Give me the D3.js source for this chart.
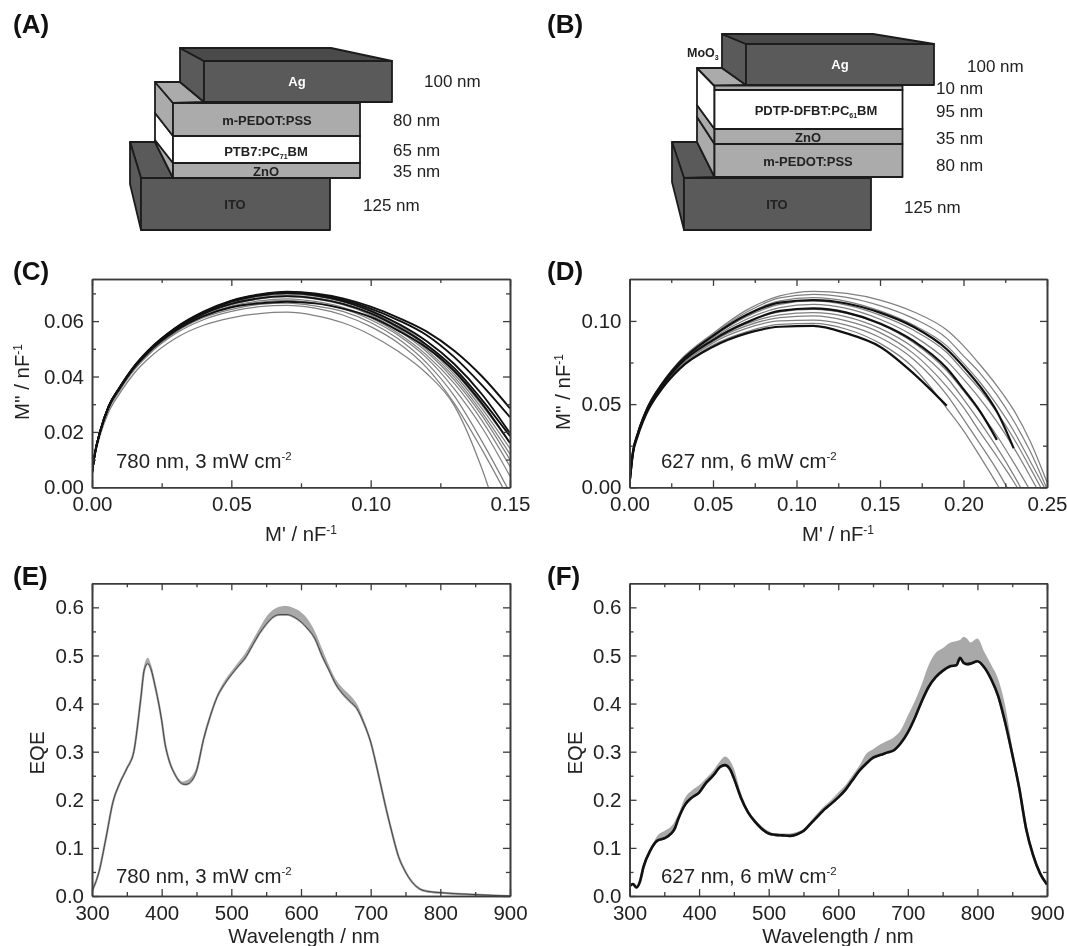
<!DOCTYPE html>
<html>
<head>
<meta charset="utf-8">
<script src="https://cdn.jsdelivr.net/npm/d3@7"></script>
<style>
  html, body { margin: 0; padding: 0; background: #fff; }
  svg { display: block; font-family: "Liberation Sans", Arial, sans-serif; filter: blur(0.45px); }
</style>
</head>
<body>
<svg id="chart" width="1067" height="946"></svg>
<script>
// device stacks
var stackA = ['Ag', 'm-PEDOT:PSS', 'PTB7:PC|71|BM', 'ZnO', 'ITO'];
var thickA = ['100 nm', '80 nm', '65 nm', '35 nm', '125 nm'];
var stackB = ['Ag', 'PDTP-DFBT:PC|61|BM', 'ZnO', 'm-PEDOT:PSS', 'ITO'];
var thickB = ['100 nm', '10 nm', '95 nm', '35 nm', '80 nm', '125 nm'];

// panel C, M'' against M' at fixed M' positions
var gridC = [0, .001, .003, .006, .01, .015, .02, .03, .04, .05, .06, .07, .08, .09, .10, .11, .12, .13, .14, .15];
var blackC = [
  [.005, .012, .0205, .0293, .0362, .0435, .0492, .0576, .0634, .0674, .0696, .0706, .0700, .0682, .0652, .0612, .0563, .0493, .0400, .0285],
  [.005, .012, .0205, .0293, .0362, .0435, .0491, .0575, .0632, .0672, .0694, .0704, .0697, .0677, .0645, .0603, .0550, .0470, .0368, .0253],
  [.005, .012, .0204, .0292, .0360, .0433, .0490, .0573, .0630, .0670, .0692, .0701, .0693, .0672, .0637, .0590, .0528, .0445, .0335, .0195],
  [.005, .012, .0204, .0292, .0360, .0432, .0488, .0570, .0626, .0662, .0682, .0690, .0682, .0662, .0628, .0578, .0515, .0430, .0315, .0185],
  [.005, .012, .0203, .0290, .0358, .0430, .0485, .0565, .0618, .0650, .0664, .0670, .0664, .0645, .0615, .0565, .0505, .0420, .0302, .0160]
];
var greyC = [
  [.005, .011, .0190, .0272, .0340, .0410, .0462, .0538, .0585, .0612, .0627, .0632, .0620, .0594, .0550, .0490, .0412, .0295, .0065, -.025],
  [.005, .0115, .0197, .0282, .0350, .0422, .0476, .0555, .0605, .0635, .0652, .0657, .0647, .0622, .0580, .0520, .0433, .0303, .0135, -.005],
  [.005, .0115, .0198, .0285, .0353, .0425, .0480, .0560, .0612, .0642, .0660, .0665, .0655, .0635, .0595, .0535, .0450, .0330, .0165, -.002],
  [.005, .0117, .0200, .0287, .0355, .0428, .0483, .0564, .0617, .0650, .0668, .0675, .0666, .0645, .0605, .0548, .0468, .0355, .0215, .0040],
  [.005, .0117, .0200, .0288, .0356, .0429, .0484, .0566, .0620, .0654, .0673, .0680, .0671, .0650, .0612, .0555, .0478, .0375, .0240, .0075],
  [.005, .0118, .0202, .0289, .0358, .0431, .0486, .0568, .0624, .0659, .0680, .0688, .0680, .0659, .0622, .0565, .0490, .0388, .0258, .0100],
  [.005, .0118, .0202, .0290, .0359, .0432, .0488, .0570, .0626, .0663, .0684, .0692, .0685, .0664, .0628, .0572, .0498, .0398, .0270, .0120],
  [.005, .0119, .0203, .0291, .0360, .0433, .0489, .0572, .0629, .0666, .0688, .0697, .0690, .0669, .0634, .0580, .0507, .0408, .0283, .0140],
  [.005, .0119, .0204, .0292, .0361, .0434, .0490, .0574, .0631, .0669, .0691, .0700, .0694, .0674, .0640, .0587, .0515, .0418, .0295, .0160]
];

// panel D, same kind of curves, black ones stop before the axis
var gridD = [0, .002, .005, .01, .02, .03, .05, .07, .09, .11, .13, .15, .17, .19, .20, .21, .22, .23, .24, .25];
var blackD = [
  [.002, .020, .031, .044, .0600, .0712, .0845, .0925, .0965, .0970, .0925, .0845, .0685, .0490, null, null, null, null, null, null],
  [.002, .0205, .032, .0453, .0618, .0738, .0885, .0990, .1060, .1075, .1050, .0985, .0880, .0715, .0590, .0455, .0285, null, null, null],
  [.002, .021, .0325, .0460, .0628, .0750, .0910, .1035, .1110, .1125, .1105, .1050, .0965, .0830, .0725, .0605, .0455, .0235, null, null]
];
var greyD = [
  [.002, .020, .0312, .0443, .0602, .0715, .0855, .0935, .0980, .0985, .0950, .0865, .0720, .0475, .0341, .0184, .0020, -.016, null, null],
  [.002, .0202, .0315, .0447, .0606, .0722, .0868, .0955, .1000, .1005, .0975, .0900, .0770, .0555, .0410, .0260, .0105, -.007, null, null],
  [.002, .0203, .0317, .0450, .0610, .0728, .0878, .0970, .1020, .1030, .1000, .0930, .0805, .0605, .0480, .0330, .0185, .0035, -.014, null],
  [.002, .0204, .0319, .0452, .0614, .0733, .0885, .0982, .1037, .1050, .1025, .0955, .0840, .0660, .0530, .0390, .0240, .0075, -.011, null],
  [.002, .0205, .0320, .0454, .0618, .0738, .0890, .0995, .1055, .1070, .1045, .0980, .0870, .0700, .0580, .0450, .0310, .0150, -.002, null],
  [.002, .0206, .0322, .0457, .0622, .0743, .0898, .1010, .1080, .1100, .1075, .1010, .0910, .0760, .0650, .0530, .0395, .0240, .0065, -.012],
  [.002, .0207, .0324, .0460, .0626, .0748, .0905, .1025, .1100, .1120, .1095, .1035, .0945, .0810, .0700, .0585, .0450, .0295, .0115, -.007],
  [.002, .0208, .0326, .0462, .0629, .0752, .0912, .1040, .1120, .1140, .1118, .1060, .0975, .0850, .0745, .0630, .0495, .0340, .0155, -.003],
  [.002, .0209, .0328, .0464, .0632, .0756, .0918, .1052, .1138, .1160, .1142, .1092, .1015, .0895, .0790, .0685, .0555, .0400, .0215, -.001],
  [.002, .021, .0330, .0465, .0635, .0760, .0925, .1065, .1150, .1178, .1165, .1125, .1055, .0945, .0850, .0735, .0610, .0465, .0275, .0030]
];

// panel E, EQE spectrum and top edge of the grey spread
var wavelengthE = [300, 310, 320, 330, 340, 350, 360, 370, 375, 380, 385, 390, 400, 405, 410, 420, 430, 435, 440, 450, 460, 470, 480, 490, 500, 510, 520, 530, 540, 550, 560, 570, 580, 590, 600, 610, 620, 630, 640, 650, 660, 670, 680, 690, 700, 710, 720, 730, 740, 750, 760, 770, 780, 800, 820, 850, 880, 900];
var eqeE = [.01, .05, .12, .195, .235, .265, .30, .41, .47, .483, .47, .44, .365, .315, .285, .25, .233, .232, .235, .26, .325, .375, .415, .44, .46, .478, .495, .52, .545, .565, .58, .585, .585, .58, .57, .555, .535, .50, .47, .44, .42, .405, .39, .36, .32, .26, .195, .135, .082, .05, .028, .015, .01, .007, .005, .003, .001, 0];
var topE = [.012, .052, .122, .197, .237, .267, .303, .415, .48, .495, .48, .447, .37, .318, .288, .254, .238, .24, .244, .268, .33, .38, .42, .447, .467, .486, .505, .53, .556, .58, .595, .602, .603, .598, .59, .575, .55, .515, .48, .45, .432, .418, .40, .367, .325, .263, .198, .137, .084, .052, .029, .016, .011, .008, .005, .003, .001, 0];

// panel F
var wavelengthF = [300, 305, 310, 315, 320, 330, 340, 350, 360, 365, 370, 380, 390, 400, 410, 420, 430, 437, 445, 450, 460, 470, 480, 490, 500, 510, 520, 530, 540, 550, 560, 570, 580, 590, 600, 610, 620, 630, 640, 650, 660, 670, 680, 690, 700, 710, 720, 730, 740, 750, 760, 770, 775, 780, 785, 790, 800, 810, 820, 830, 840, 850, 860, 870, 880, 890, 900];
var eqeF = [.02, .025, .018, .03, .06, .095, .115, .12, .13, .14, .16, .19, .205, .215, .235, .25, .268, .272, .262, .245, .205, .175, .155, .14, .13, .127, .126, .125, .128, .135, .15, .165, .18, .192, .205, .22, .24, .26, .275, .2875, .293, .298, .303, .318, .34, .37, .405, .435, .455, .468, .477, .48, .495, .485, .482, .483, .488, .475, .45, .415, .36, .295, .225, .14, .085, .047, .024];
var topF = [.02, .025, .018, .03, .06, .097, .125, .135, .145, .155, .17, .205, .22, .23, .245, .26, .28, .29, .28, .265, .215, .18, .16, .145, .135, .13, .13, .13, .133, .14, .155, .172, .187, .20, .215, .23, .25, .27, .295, .305, .315, .322, .33, .345, .375, .405, .44, .48, .505, .515, .526, .53, .532, .539, .535, .527, .535, .507, .48, .45, .395, .31, .225, .14, .085, .047, .024];

var panelLabels = [
  ['(A)', 13, 33], ['(B)', 547, 33],
  ['(C)', 13, 280], ['(D)', 547, 280],
  ['(E)', 13, 585], ['(F)', 547, 585]
];

var svg = d3.select('#chart');
var ink = '#222';

panelLabels.forEach(function(d) {
  svg.append('text').attr('x', d[1]).attr('y', d[2])
    .attr('font-size', 26).attr('font-weight', 'bold').attr('fill', '#111')
    .text(d[0]);
});

function writeParts(text, str, small) {
  // "a|b|c" draws b as a small subscript
  var parts = str.split('|');
  text.append('tspan').text(parts[0]);
  if (parts.length > 1) {
    text.append('tspan').attr('font-size', small).attr('dy', 3).text(parts[1]);
    text.append('tspan').attr('dy', -3).text(parts[2]);
  }
}

function layerLabel(g, str, x, y, fill) {
  var t = g.append('text').attr('x', x).attr('y', y).attr('dy', '.36em')
    .attr('text-anchor', 'middle').attr('font-size', 13).attr('font-weight', 'bold')
    .attr('fill', fill || ink);
  writeParts(t, str, 7);
}

function nmLabel(g, str, x, y) {
  g.append('text').attr('x', x).attr('y', y).attr('dy', '.36em')
    .attr('font-size', 17).attr('fill', ink).text(str);
}

function poly(g, points, fill) {
  g.append('path')
    .attr('d', d3.line()(points) + 'Z')
    .attr('fill', fill).attr('stroke', '#1c1c1c').attr('stroke-width', 1.8)
    .attr('stroke-linejoin', 'round');
}

var dark = '#5a5a5a';
var mid = '#ababab';

function deviceA() {
  var g = svg.append('g');
  // bottom contact
  poly(g, [[130, 142], [155, 142], [173, 178], [141, 178]], dark);
  poly(g, [[130, 142], [141, 178], [141, 230], [130, 184]], dark);
  poly(g, [[141, 178], [330, 178], [330, 230], [141, 230]], dark);
  // organic stack, side faces then fronts
  poly(g, [[155, 140], [173, 163], [173, 178], [155, 142]], mid);
  poly(g, [[155, 113], [173, 136], [173, 163], [155, 140]], '#fff');
  poly(g, [[155, 82], [173, 103], [173, 136], [155, 113]], mid);
  poly(g, [[155, 82], [180, 82], [204, 102], [173, 103]], mid);
  poly(g, [[173, 103], [360, 103], [360, 136], [173, 136]], mid);
  poly(g, [[173, 136], [360, 136], [360, 163], [173, 163]], '#fff');
  poly(g, [[173, 163], [360, 163], [360, 178], [173, 178]], mid);
  // top contact
  poly(g, [[180, 48], [204, 61], [204, 102], [180, 82]], dark);
  poly(g, [[180, 48], [331, 48], [392, 61], [204, 61]], '#4a4a4a');
  poly(g, [[204, 61], [392, 61], [392, 102], [204, 102]], dark);

  layerLabel(g, stackA[0], 297, 81, '#fff');
  layerLabel(g, stackA[1], 267, 120);
  layerLabel(g, stackA[2], 266, 151);
  layerLabel(g, stackA[3], 266, 171);
  layerLabel(g, stackA[4], 235, 204);

  nmLabel(g, thickA[0], 424, 81);
  nmLabel(g, thickA[1], 393, 120);
  nmLabel(g, thickA[2], 393, 150);
  nmLabel(g, thickA[3], 393, 171);
  nmLabel(g, thickA[4], 363, 205);
}

function deviceB() {
  var g = svg.append('g');
  // bottom contact
  poly(g, [[672, 142], [697, 142], [714.5, 177], [684, 178]], dark);
  poly(g, [[672, 142], [684, 178], [684, 230], [672, 182]], dark);
  poly(g, [[684, 178], [871, 178], [871, 230], [684, 230]], dark);
  // organic stack
  poly(g, [[697, 117], [714.5, 144], [714.5, 177], [697, 142]], mid);
  poly(g, [[697, 105], [714.5, 129], [714.5, 144], [697, 117]], mid);
  poly(g, [[697, 68], [714.5, 86], [714.5, 129], [697, 105]], '#fff');
  poly(g, [[697, 68], [722, 68], [746, 85], [714.5, 86]], mid);
  poly(g, [[714.5, 85.5], [902.5, 85.5], [902.5, 90], [714.5, 90]], mid);
  poly(g, [[714.5, 90], [902.5, 90], [902.5, 129], [714.5, 129]], '#fff');
  poly(g, [[714.5, 129], [902.5, 129], [902.5, 144], [714.5, 144]], mid);
  poly(g, [[714.5, 144], [902.5, 144], [902.5, 177], [714.5, 177]], mid);
  // top contact
  poly(g, [[722, 34], [746, 44], [746, 85], [722, 68]], dark);
  poly(g, [[722, 34], [873, 34], [934, 44], [746, 44]], '#4a4a4a');
  poly(g, [[746, 44], [934, 44], [934, 85], [746, 85]], dark);

  layerLabel(g, stackB[0], 840, 64, '#fff');
  layerLabel(g, stackB[1], 816, 110);
  layerLabel(g, stackB[2], 808, 137);
  layerLabel(g, stackB[3], 808, 161);
  layerLabel(g, stackB[4], 777, 204);

  var moo = g.append('text').attr('x', 687).attr('y', 52).attr('dy', '.36em')
    .attr('font-size', 12.5).attr('font-weight', 'bold').attr('fill', ink);
  writeParts(moo, 'MoO|3|', 7);

  nmLabel(g, thickB[0], 967, 66);
  nmLabel(g, thickB[1], 936, 88);
  nmLabel(g, thickB[2], 936, 111);
  nmLabel(g, thickB[3], 936, 138);
  nmLabel(g, thickB[4], 936, 165);
  nmLabel(g, thickB[5], 904, 207);
}

function panel(opts) {
  var g = svg.append('g');
  var x = d3.scaleLinear().domain(opts.xDomain).range([opts.left, opts.right]);
  var y = d3.scaleLinear().domain(opts.yDomain).range([opts.bottom, opts.top]);

  var frame = function(sel) {
    sel.selectAll('path').attr('stroke', '#3c3c3c').attr('stroke-width', 1.6);
    sel.selectAll('line').attr('stroke', '#3c3c3c').attr('stroke-width', 1.3);
    sel.selectAll('text').attr('font-size', 20.5).attr('fill', ink)
      .attr('font-family', '"Liberation Sans", Arial, sans-serif');
  };

  var drawAxis = function(axis, tx, ty) {
    g.append('g').attr('transform', 'translate(' + tx + ',' + ty + ')').call(axis).call(frame);
  };

  // minor ticks first, labels only on the left and bottom majors
  drawAxis(d3.axisBottom(x).tickValues(opts.xMinor).tickSizeInner(-4).tickSizeOuter(0).tickFormat(''), 0, opts.bottom);
  drawAxis(d3.axisTop(x).tickValues(opts.xMinor).tickSizeInner(-4).tickSizeOuter(0).tickFormat(''), 0, opts.top);
  drawAxis(d3.axisLeft(y).tickValues(opts.yMinor).tickSizeInner(-4).tickSizeOuter(0).tickFormat(''), opts.left, 0);
  drawAxis(d3.axisRight(y).tickValues(opts.yMinor).tickSizeInner(-4).tickSizeOuter(0).tickFormat(''), opts.right, 0);

  drawAxis(d3.axisBottom(x).tickValues(opts.xMajor).tickSizeInner(-7).tickSizeOuter(0).tickPadding(opts.xPad).tickFormat(d3.format(opts.xFormat)), 0, opts.bottom);
  drawAxis(d3.axisTop(x).tickValues(opts.xMajor).tickSizeInner(-7).tickSizeOuter(0).tickFormat(''), 0, opts.top);
  drawAxis(d3.axisLeft(y).tickValues(opts.yMajor).tickSizeInner(-7).tickSizeOuter(0).tickPadding(8).tickFormat(d3.format(opts.yFormat)), opts.left, 0);
  drawAxis(d3.axisRight(y).tickValues(opts.yMajor).tickSizeInner(-7).tickSizeOuter(0).tickFormat(''), opts.right, 0);

  var xt = g.append('text').attr('x', opts.xLabelX).attr('y', opts.xLabelY)
    .attr('text-anchor', 'middle').attr('font-size', 20.3).attr('fill', ink).text(opts.xLabel);
  if (opts.xSup) {
    xt.append('tspan').attr('dy', -7).attr('font-size', 12).text(opts.xSup);
  }

  var yt = g.append('text')
    .attr('transform', 'translate(' + opts.yLabelX + ',' + opts.yLabelY + ') rotate(-90)')
    .attr('text-anchor', 'middle').attr('font-size', 20.3).attr('fill', ink).text(opts.yLabel);
  if (opts.ySup) {
    yt.append('tspan').attr('dy', -7).attr('font-size', 12).text(opts.ySup);
  }

  var note = g.append('text').attr('x', opts.noteX).attr('y', opts.noteY)
    .attr('font-size', 20.4).attr('fill', ink).text(opts.note);
  note.append('tspan').attr('dy', -8).attr('font-size', 11.5).text('-2');

  return { g: g, x: x, y: y };
}

function clipTo(p, id, opts) {
  svg.append('clipPath').attr('id', id).append('rect')
    .attr('x', opts.left).attr('y', opts.top)
    .attr('width', opts.right - opts.left).attr('height', opts.bottom - opts.top);
  return p.g.insert('g', ':first-child').attr('clip-path', 'url(#' + id + ')');
}

function drawCurves(p, id, opts, grid, greys, blacks, blackWidth) {
  var plot = clipTo(p, id, opts);
  var line = d3.line()
    .defined(function(d) { return d !== null; })
    .x(function(d, i) { return p.x(grid[i]); })
    .y(function(d) { return p.y(d); })
    .curve(d3.curveMonotoneX);
  plot.selectAll('path.grey').data(greys).enter().append('path')
    .attr('class', 'grey').attr('d', line)
    .attr('fill', 'none').attr('stroke', '#808080').attr('stroke-width', 1.25);
  plot.selectAll('path.black').data(blacks).enter().append('path')
    .attr('class', 'black').attr('d', line)
    .attr('fill', 'none').attr('stroke', '#111').attr('stroke-width', blackWidth);
}

function drawSpectrum(p, id, opts, wl, eqe, top, width, color, halo) {
  var plot = clipTo(p, id, opts);
  var area = d3.area()
    .x(function(d, i) { return p.x(wl[i]); })
    .y0(function(d, i) { return p.y(eqe[i] - .002); })
    .y1(function(d, i) { return p.y(top[i]); })
    .curve(d3.curveMonotoneX);
  plot.append('path').datum(eqe).attr('d', area).attr('fill', '#a9a9a9');
  var line = d3.line()
    .x(function(d, i) { return p.x(wl[i]); })
    .y(function(d) { return p.y(d); })
    .curve(d3.curveMonotoneX);
  plot.append('path').datum(eqe).attr('d', line)
    .attr('fill', 'none').attr('stroke', '#a0a0a0').attr('stroke-width', halo);
  plot.append('path').datum(eqe).attr('d', line)
    .attr('fill', 'none').attr('stroke', color).attr('stroke-width', width);
}

deviceA();
deviceB();

var optsC = {
  left: 92, right: 510, top: 279, bottom: 487.3,
  xDomain: [0, .15], yDomain: [0, .0752],
  xMajor: [0, .05, .10, .15], xMinor: [.025, .075, .125], xFormat: '.2f', xPad: 9,
  yMajor: [0, .02, .04, .06], yMinor: [.01, .03, .05, .07], yFormat: '.2f',
  xLabel: "M' / nF", xSup: '-1', xLabelX: 301, xLabelY: 541,
  yLabel: "M'' / nF", ySup: '-1', yLabelX: 29, yLabelY: 382,
  note: '780 nm, 3 mW cm', noteX: 116, noteY: 468
};
var optsD = {
  left: 629.5, right: 1047, top: 279, bottom: 487.3,
  xDomain: [0, .25], yDomain: [0, .1252],
  xMajor: [0, .05, .10, .15, .20, .25], xMinor: [.025, .075, .125, .175, .225], xFormat: '.2f', xPad: 9,
  yMajor: [0, .05, .10], yMinor: [.025, .075], yFormat: '.2f',
  xLabel: "M' / nF", xSup: '-1', xLabelX: 838, xLabelY: 541,
  yLabel: "M'' / nF", ySup: '-1', yLabelX: 570, yLabelY: 392,
  note: '627 nm, 6 mW cm', noteX: 661, noteY: 468
};
var wlMajor = [300, 400, 500, 600, 700, 800, 900];
var wlMinor = [350, 450, 550, 650, 750, 850];
var eqeMajor = [0, .1, .2, .3, .4, .5, .6];
var eqeMinor = [.05, .15, .25, .35, .45, .55];
var optsE = {
  left: 92, right: 510, top: 583.3, bottom: 896,
  xDomain: [300, 900], yDomain: [0, .65],
  xMajor: wlMajor, xMinor: wlMinor, xFormat: 'd', xPad: 9,
  yMajor: eqeMajor, yMinor: eqeMinor, yFormat: '.1f',
  xLabel: 'Wavelength / nm', xLabelX: 304, xLabelY: 943,
  yLabel: 'EQE', yLabelX: 44, yLabelY: 753,
  note: '780 nm, 3 mW cm', noteX: 116, noteY: 883
};
var optsF = {
  left: 629.5, right: 1047, top: 583.3, bottom: 896,
  xDomain: [300, 900], yDomain: [0, .65],
  xMajor: wlMajor, xMinor: wlMinor, xFormat: 'd', xPad: 9,
  yMajor: eqeMajor, yMinor: eqeMinor, yFormat: '.1f',
  xLabel: 'Wavelength / nm', xLabelX: 838, xLabelY: 943,
  yLabel: 'EQE', yLabelX: 582, yLabelY: 753,
  note: '627 nm, 6 mW cm', noteX: 661, noteY: 883
};

drawCurves(panel(optsC), 'clipC', optsC, gridC, greyC, blackC, 1.9);
drawCurves(panel(optsD), 'clipD', optsD, gridD, greyD, blackD, 2.2);
drawSpectrum(panel(optsE), 'clipE', optsE, wavelengthE, eqeE, topE, 1, '#444', 2.2);
drawSpectrum(panel(optsF), 'clipF', optsF, wavelengthF, eqeF, topF, 2.6, '#111', 2.6);
</script>
</body>
</html>
